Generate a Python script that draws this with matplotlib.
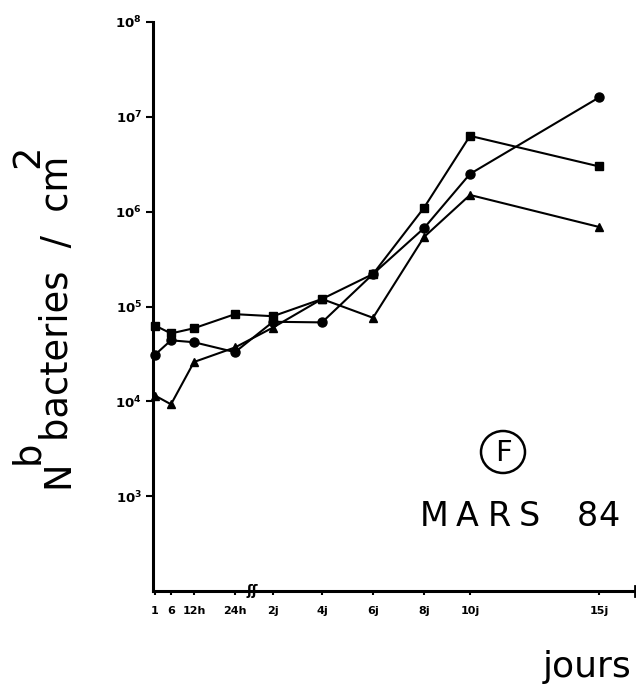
import numpy as np
import matplotlib.pyplot as plt
from matplotlib.patches import Ellipse
from matplotlib.transforms import blended_transform_factory

# temps de prelevement (echelle coupee entre 24h et 2j)
labels = ['1', '6', '12h', '24h', '2j', '4j', '6j', '8j', '10j', '15j']
x_pos = [2, 18, 41, 82, 120, 169, 220, 271, 317, 446]

# nombre de bacteries / cm2 pour les trois series
carre = [6.3e4, 5.2e4, 5.9e4, 8.3e4, 7.9e4, 1.2e5, 2.2e5, 1.1e6, 6.3e6, 3.0e6]
rond = [3.1e4, 4.4e4, 4.2e4, 3.3e4, 6.9e4, 6.8e4, 2.2e5, 6.7e5, 2.5e6, 1.6e7]
triangle = [1.15e4, 9.3e3, 2.6e4, 3.7e4, 6.0e4, 1.2e5, 7.6e4, 5.4e5, 1.5e6, 6.9e5]
decades = [3, 4, 5, 6, 7, 8]

W, H = 636, 689
fig = plt.figure(figsize=(W / 100, H / 100), dpi=100)
ax = fig.add_axes([153 / W, 98 / H, 482 / W, 569 / H])

ax.plot(x_pos, carre, 'k-s', lw=1.5, ms=6, clip_on=False)
ax.plot(x_pos, rond, 'k-o', lw=1.5, ms=6.5, clip_on=False)
ax.plot(x_pos, triangle, 'k-^', lw=1.5, ms=6, clip_on=False)

ax.set_yscale('log')
ax.set_ylim(1e2, 1e8)
ax.set_xlim(0, 482)
ax.minorticks_off()
ax.set_yticks([10.0 ** d for d in decades])
ax.set_yticklabels([r'$\mathbf{10^{%d}}$' % d for d in decades], fontsize=9.5)
ax.set_xticks(x_pos)
ax.set_xticklabels(labels, fontsize=8, fontweight='bold')
ax.tick_params(axis='y', direction='out', length=5, width=1.5, pad=3)
ax.tick_params(axis='x', direction='out', length=3, width=1.5, pad=8)

for s in ['top', 'right']:
    ax.spines[s].set_visible(False)
for s in ['left', 'bottom']:
    ax.spines[s].set_linewidth(2.2)

# fin de l'axe des x
tr = blended_transform_factory(ax.transData, ax.transAxes)
ax.plot([482, 482], [-0.008, 0.008], color='k', lw=2, transform=tr, clip_on=False)

# coupure de l'axe
ax.text(99, 0.0, 'ʃʃ', transform=tr, ha='center', va='center',
        fontsize=10, fontweight='bold')

def px(x, y):
    return x / W, 1 - y / H

# titre de l'axe y
kw = dict(rotation=90, rotation_mode='anchor', ha='left', va='baseline',
          fontsize=26.5, color='k')
fig.text(*px(68, 488), 'N', **kw)
fig.text(*px(38, 464), 'b', **kw)
fig.text(*px(68, 441), 'bacteries  /  cm', **kw)
fig.text(*px(38, 168), '2', **kw)

# lettre encerclee
cercle = Ellipse(px(503, 452), 44 / W, 42 / H, transform=fig.transFigure,
                 fill=False, lw=1.8, ec='k')
fig.patches.append(cercle)
fig.text(*px(503, 453), 'F', ha='center', va='center', fontsize=21)

# MARS 84, lettres espacees
for lettre, x in zip('MARS84', [420, 456, 488, 519, 577, 598]):
    fig.text(*px(x, 526), lettre, ha='left', va='baseline', fontsize=24)

fig.text(*px(543, 677), 'jours', ha='left', va='baseline', fontsize=26)

fig.savefig('out.png', dpi=100)
